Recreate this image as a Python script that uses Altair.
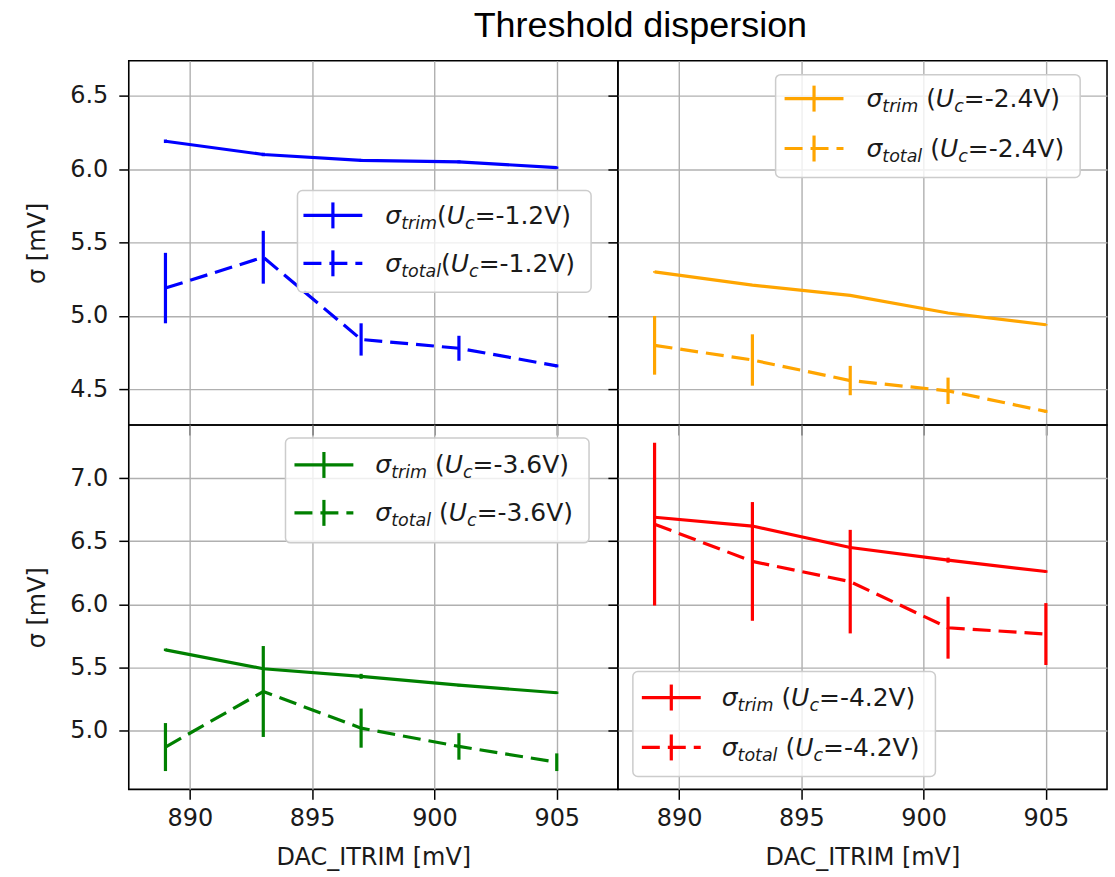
import altair as alt
import pandas as pd

# ---------------- data ----------------
dac_itrim = [889, 893, 897, 901, 905]

trim_12 = [6.19, 6.10, 6.06, 6.05, 6.01]
trim_12_err = [0.012, 0.012, 0.01, 0.01, 0.008]
total_12 = [5.19, 5.40, 4.84, 4.78, 4.66]
total_12_err = [0.24, 0.18, 0.11, 0.085, 0.01]

trim_24 = [5.30, 5.21, 5.14, 5.02, 4.94]
trim_24_err = [0.005, 0.005, 0.005, 0.005, 0.005]
total_24 = [4.80, 4.70, 4.56, 4.49, 4.35]
total_24_err = [0.20, 0.175, 0.10, 0.09, 0.01]

trim_36 = [5.64, 5.49, 5.43, 5.36, 5.30]
trim_36_err = [0.01, 0.01, 0.02, 0.01, 0.01]
total_36 = [4.87, 5.31, 5.02, 4.875, 4.75]
total_36_err = [0.19, 0.36, 0.155, 0.105, 0.07]

trim_42 = [6.69, 6.62, 6.45, 6.35, 6.26]
trim_42_err = [0.01, 0.01, 0.01, 0.02, 0.01]
total_42 = [6.635, 6.34, 6.18, 5.815, 5.765]
total_42_err = [0.645, 0.47, 0.41, 0.245, 0.245]

x_ticks = [890, 895, 900, 905]
y_ticks_top = [4.5, 5.0, 5.5, 6.0, 6.5]
y_ticks_bottom = [5.0, 5.5, 6.0, 6.5, 7.0]

# ---------------- layout / style ----------------
PW, PH = 490, 365
X_DOMAIN = [887.5, 907.5]
Y_DOM_TOP = [4.257, 6.739]
Y_DOM_BOT = [4.535, 7.42]
FONT = "DejaVu Sans"
TICK_FS = 24
LEG_FS = 25
SUB_FS = 17.5
LW = 3.2
DASH = [18, 8]

# approximate DejaVu Sans advance widths (em)
ADV = {"σ": 0.635, "t": 0.392, "r": 0.411, "i": 0.278, "m": 0.974, "o": 0.612,
       "a": 0.613, "l": 0.278, " ": 0.318, "(": 0.390, "U": 0.732, "c": 0.550,
       "=": 0.838, "-": 0.361, ".": 0.318, "V": 0.684, ")": 0.390}
for d in "0123456789":
    ADV[d] = 0.636


def tw(s, fs):
    return sum(ADV.get(ch, 0.6) for ch in s) * fs


def label_pieces(sub, uc, space, x0, yc):
    base = yc + 8.5
    pcs = [("σ", "it", LEG_FS, 0, 0), (sub, "it", SUB_FS, 5, 0),
           ("(", "rm", LEG_FS, 0, tw(" ", LEG_FS) if space else 0),
           ("U", "it", LEG_FS, 0, 0),
           ("c", "it", SUB_FS, 5, 0), ("=" + uc + ")", "rm", LEG_FS, 0, 0)]
    rows = []
    x = x0
    for t, st, fs, dy, gap in pcs:
        x += gap
        rows.append({"px": x, "py": base + dy, "t": t, "fs": fs, "st": st})
        x += tw(t, fs)
    return rows, x


def make_panel(color, uc, trim, trim_err, total, total_err, ydom, yvals,
               left, bottom, leg):
    df = pd.DataFrame({"dac": dac_itrim, "trim": trim, "total": total,
                       "te": trim_err, "oe": total_err})
    df["trim_lo"] = df["trim"] - df["te"]
    df["trim_hi"] = df["trim"] + df["te"]
    df["total_lo"] = df["total"] - df["oe"]
    df["total_hi"] = df["total"] + df["oe"]

    xscale = alt.Scale(domain=X_DOMAIN, nice=False, zero=False)
    yscale = alt.Scale(domain=ydom, nice=False, zero=False)
    if bottom:
        xaxis = alt.Axis(values=x_ticks, format="d", tickSize=10, labelPadding=7,
                         domain=False, grid=True, titleY=68, titleBaseline="middle")
        xtitle = "DAC_ITRIM [mV]"
    else:
        xaxis = alt.Axis(values=x_ticks, labels=False, tickSize=10, domain=False, grid=True)
        xtitle = None
    if left:
        yaxis = alt.Axis(values=yvals, format=".1f", tickSize=10, labelPadding=11,
                         domain=False, grid=True, titleX=-91, titleY=PH / 2,
                         titleBaseline="middle")
        ytitle = "σ [mV]"
    else:
        yaxis = alt.Axis(values=yvals, labels=False, tickSize=10, domain=False, grid=True)
        ytitle = None

    def X(f):
        return alt.X(f"{f}:Q", scale=xscale, axis=xaxis, title=xtitle)

    def Y(f):
        return alt.Y(f"{f}:Q", scale=yscale, axis=yaxis, title=ytitle)

    base = alt.Chart(df)
    layers = [
        base.mark_line(color=color, strokeWidth=LW).encode(x=X("dac"), y=Y("trim")),
        base.mark_rule(color=color, strokeWidth=LW).encode(
            x=X("dac"), y=Y("trim_lo"), y2="trim_hi:Q"),
        base.mark_line(color=color, strokeWidth=LW, strokeDash=DASH).encode(
            x=X("dac"), y=Y("total")),
        base.mark_rule(color=color, strokeWidth=LW).encode(
            x=X("dac"), y=Y("total_lo"), y2="total_hi:Q"),
    ]

    # ---- legend (drawn in pixel space) ----
    r1, e1 = label_pieces("trim", uc, leg["space"], leg["text_x"], leg["rows"][0])
    r2, e2 = label_pieces("total", uc, leg["space"], leg["text_x"], leg["rows"][1])
    box_right = max(e1, e2) + 16
    box = pd.DataFrame([{"x1": leg["box_x"], "x2": box_right,
                         "y1": leg["box_y"][0], "y2": leg["box_y"][1]}])
    PX = lambda f: alt.X(f"{f}:Q", scale=None, axis=None)
    PY = lambda f: alt.Y(f"{f}:Q", scale=None, axis=None)
    layers.append(alt.Chart(box).mark_rect(
        fill="white", fillOpacity=0.8, stroke="#cccccc", strokeWidth=1.5,
        cornerRadius=5).encode(x=PX("x1"), x2="x2:Q", y=PY("y1"), y2="y2:Q"))

    sx = leg["sym_x"]
    sym_h = pd.DataFrame([{"a": sx, "b": sx + 59, "y": leg["rows"][0]}])
    sym_d = pd.DataFrame([{"a": sx, "b": sx + 59, "y": leg["rows"][1]}])
    sym_v = pd.DataFrame([{"x": sx + 29.5, "y1": r - 13, "y2": r + 13} for r in leg["rows"]])
    layers.append(alt.Chart(sym_h).mark_rule(color=color, strokeWidth=LW).encode(
        x=PX("a"), x2="b:Q", y=PY("y")))
    layers.append(alt.Chart(sym_d).mark_rule(color=color, strokeWidth=LW, strokeDash=DASH).encode(
        x=PX("a"), x2="b:Q", y=PY("y")))
    layers.append(alt.Chart(sym_v).mark_rule(color=color, strokeWidth=LW).encode(
        x=PX("x"), y=PY("y1"), y2="y2:Q"))

    txt = pd.DataFrame(r1 + r2)
    for st, style in (("it", "italic"), ("rm", "normal")):
        sub = txt[txt["st"] == st]
        layers.append(alt.Chart(sub).mark_text(
            align="left", baseline="alphabetic", font=FONT, fontStyle=style,
            color="#1a1a1a").encode(
            x=PX("px"), y=PY("py"), text="t:N",
            size=alt.Size("fs:Q", scale=None, legend=None)))

    return alt.layer(*layers).properties(width=PW, height=PH)


tl = make_panel("#0000ff", "-1.2V", trim_12, trim_12_err, total_12, total_12_err,
                Y_DOM_TOP, y_ticks_top, True, False,
                dict(box_x=169, box_y=(130, 232), rows=(155, 203), sym_x=175, text_x=257, space=False))
tr = make_panel("#ffa500", "-2.4V", trim_24, trim_24_err, total_24, total_24_err,
                Y_DOM_TOP, y_ticks_top, False, False,
                dict(box_x=158, box_y=(14, 117), rows=(38, 88), sym_x=167, text_x=249, space=True))
bl = make_panel("#008000", "-3.6V", trim_36, trim_36_err, total_36, total_36_err,
                Y_DOM_BOT, y_ticks_bottom, True, True,
                dict(box_x=157, box_y=(13, 118), rows=(40, 88), sym_x=166, text_x=247, space=True))
br = make_panel("#ff0000", "-4.2V", trim_42, trim_42_err, total_42, total_42_err,
                Y_DOM_BOT, y_ticks_bottom, False, True,
                dict(box_x=15, box_y=(247, 352), rows=(273, 323), sym_x=24, text_x=104, space=True))

chart = alt.concat(tl, tr, bl, br, columns=2, spacing=0, bounds="flush").properties(
    title=alt.TitleParams("Threshold dispersion", font="Liberation Sans", fontSize=36,
                          fontWeight="normal", anchor="middle", dx=74, offset=15,
                          color="black"),
    padding={"left": 25, "top": 7, "right": 7, "bottom": 10},
    background="white",
).configure_view(
    stroke="black", strokeWidth=1.6
).configure_axis(
    labelFont=FONT, labelFontSize=TICK_FS, labelColor="#1a1a1a",
    titleFont=FONT, titleFontSize=TICK_FS, titleFontWeight="normal", titleColor="#1a1a1a",
    tickColor="black", tickWidth=1.5, gridColor="#b0b0b0", gridWidth=1.4
)

chart.save("out.html", embed_options={"renderer": "svg", "actions": False})
